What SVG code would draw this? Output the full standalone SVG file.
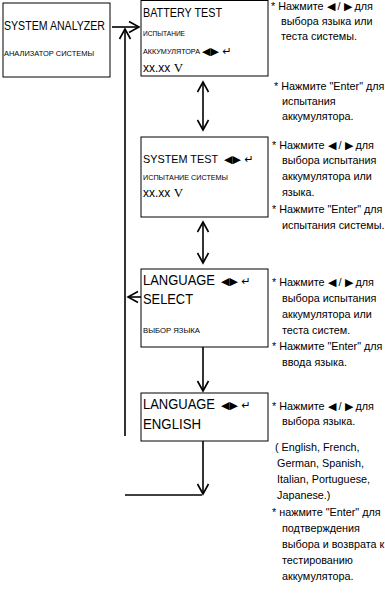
<svg xmlns="http://www.w3.org/2000/svg" width="385" height="610" viewBox="0 0 385 610">
<style>
.box{fill:#fff;stroke:#000;stroke-width:1}
.ln{stroke:#000;stroke-width:1.6;fill:none}
.t{font-family:"Liberation Sans",Arial,sans-serif;fill:#000}
.big{font-size:12.5px}
.lg{font-size:14px}
.sm{font-size:7.5px}
.note{font-family:"Liberation Sans",Arial,sans-serif;font-size:10.8px;fill:#000}
.sym{font-family:"DejaVu Sans",sans-serif;fill:#000;font-size:11px}
.v{font-family:"Liberation Serif","Times New Roman",serif;font-size:13px;fill:#000}
</style>
<defs>
<marker id="ah" viewBox="-11 -6 12 12" refX="0" refY="0" markerWidth="12" markerHeight="12" markerUnits="userSpaceOnUse" orient="auto-start-reverse" overflow="visible">
<path d="M-10,-5.5 L0,0 L-10,5.5" fill="none" stroke="#000" stroke-width="1.6"/>
</marker>
</defs>

<g id="connectors">
<line class="ln" x1="112" y1="27" x2="139" y2="27" marker-end="url(#ah)"/>
<line class="ln" x1="125" y1="436" x2="125" y2="29" marker-end="url(#ah)"/>
<line class="ln" x1="203" y1="82" x2="203" y2="130" marker-start="url(#ah)" marker-end="url(#ah)"/>
<line class="ln" x1="203" y1="222" x2="203" y2="263" marker-start="url(#ah)" marker-end="url(#ah)"/>
<line class="ln" x1="141" y1="297" x2="128" y2="297" marker-end="url(#ah)"/>
<line class="ln" x1="203" y1="347" x2="203" y2="391" marker-end="url(#ah)"/>
<line class="ln" x1="203" y1="441" x2="203" y2="494" marker-end="url(#ah)"/>
<line class="ln" x1="125" y1="495" x2="202" y2="495"/>
</g>

<g id="system-analyzer">
<rect class="box" x="3" y="3" width="107" height="74"/>
<text class="t big" x="4" y="30" textLength="101" lengthAdjust="spacingAndGlyphs">SYSTEM ANALYZER</text>
<text class="t sm" x="4" y="56" textLength="90" lengthAdjust="spacingAndGlyphs">АНАЛИЗАТОР СИСТЕМЫ</text>
</g>

<g id="battery-test">
<rect class="box" x="141" y="0.5" width="127" height="75.5"/>
<text class="t big" x="143" y="17" textLength="79" lengthAdjust="spacingAndGlyphs">BATTERY TEST</text>
<text class="t sm" x="143" y="36" textLength="42" lengthAdjust="spacingAndGlyphs">ИСПЫТАНИЕ</text>
<text class="t sm" x="143" y="54" textLength="57" lengthAdjust="spacingAndGlyphs">АККУМУЛЯТОРА</text>
<text class="sym" x="202" y="55">◀▶ ↵</text>
<text class="t" x="143" y="72" font-size="12">xx.xx <tspan class="v">V</tspan></text>
</g>

<g id="system-test">
<rect class="box" x="141" y="137" width="127" height="80"/>
<text class="t" font-size="11.5" x="143" y="163" textLength="75" lengthAdjust="spacingAndGlyphs">SYSTEM TEST</text>
<text class="sym" x="224" y="163">◀▶ ↵</text>
<text class="t sm" x="143" y="180" textLength="85" lengthAdjust="spacingAndGlyphs">ИСПЫТАНИЕ СИСТЕМЫ</text>
<text class="t" x="143" y="197" font-size="12">xx.xx <tspan class="v">V</tspan></text>
</g>

<g id="language-select">
<rect class="box" x="141" y="269" width="127" height="78"/>
<text class="t lg" x="143" y="285" textLength="72" lengthAdjust="spacingAndGlyphs">LANGUAGE</text>
<text class="sym" x="221" y="285">◀▶ ↵</text>
<text class="t lg" x="143" y="304" textLength="50" lengthAdjust="spacingAndGlyphs">SELECT</text>
<text class="t sm" x="143" y="333" textLength="57" lengthAdjust="spacingAndGlyphs">ВЫБОР ЯЗЫКА</text>
</g>

<g id="language-english">
<rect class="box" x="141" y="393" width="127" height="48"/>
<text class="t lg" x="143" y="409" textLength="72" lengthAdjust="spacingAndGlyphs">LANGUAGE</text>
<text class="sym" x="221" y="409">◀▶ ↵</text>
<text class="t lg" x="143" y="429" textLength="58" lengthAdjust="spacingAndGlyphs">ENGLISH</text>
</g>

<g id="notes">
<text class="note" x="271" y="10">* Нажмите ◀ / ▶ для</text>
<text class="note" x="281" y="25">выбора языка или</text>
<text class="note" x="281" y="40">теста системы.</text>
<text class="note" x="274" y="90">* Нажмите "Enter" для</text>
<text class="note" x="282" y="105">испытания</text>
<text class="note" x="282" y="120">аккумулятора.</text>
<text class="note" x="272" y="149">* Нажмите ◀ / ▶ для</text>
<text class="note" x="282" y="164">выбора испытания</text>
<text class="note" x="282" y="180">аккумулятора или</text>
<text class="note" x="282" y="196">языка.</text>
<text class="note" x="272" y="213">* Нажмите "Enter" для</text>
<text class="note" x="282" y="229">испытания системы.</text>
<text class="note" x="272" y="286">* Нажмите ◀ / ▶ для</text>
<text class="note" x="282" y="302">выбора испытания</text>
<text class="note" x="282" y="318">аккумулятора или</text>
<text class="note" x="282" y="334">теста систем.</text>
<text class="note" x="272" y="350">* Нажмите "Enter" для</text>
<text class="note" x="282" y="366">ввода языка.</text>
<text class="note" x="272" y="410">* Нажмите ◀ / ▶ для</text>
<text class="note" x="282" y="425">выбора языка.</text>
<text class="note" x="275" y="451">( English, French,</text>
<text class="note" x="277" y="467">German, Spanish,</text>
<text class="note" x="277" y="483">Italian, Portuguese,</text>
<text class="note" x="277" y="499">Japanese.)</text>
<text class="note" x="272" y="516">* нажмите "Enter" для</text>
<text class="note" x="282" y="532">подтверждения</text>
<text class="note" x="282" y="548">выбора и возврата к</text>
<text class="note" x="282" y="564">тестированию</text>
<text class="note" x="282" y="580">аккумулятора.</text>
</g>
</svg>
